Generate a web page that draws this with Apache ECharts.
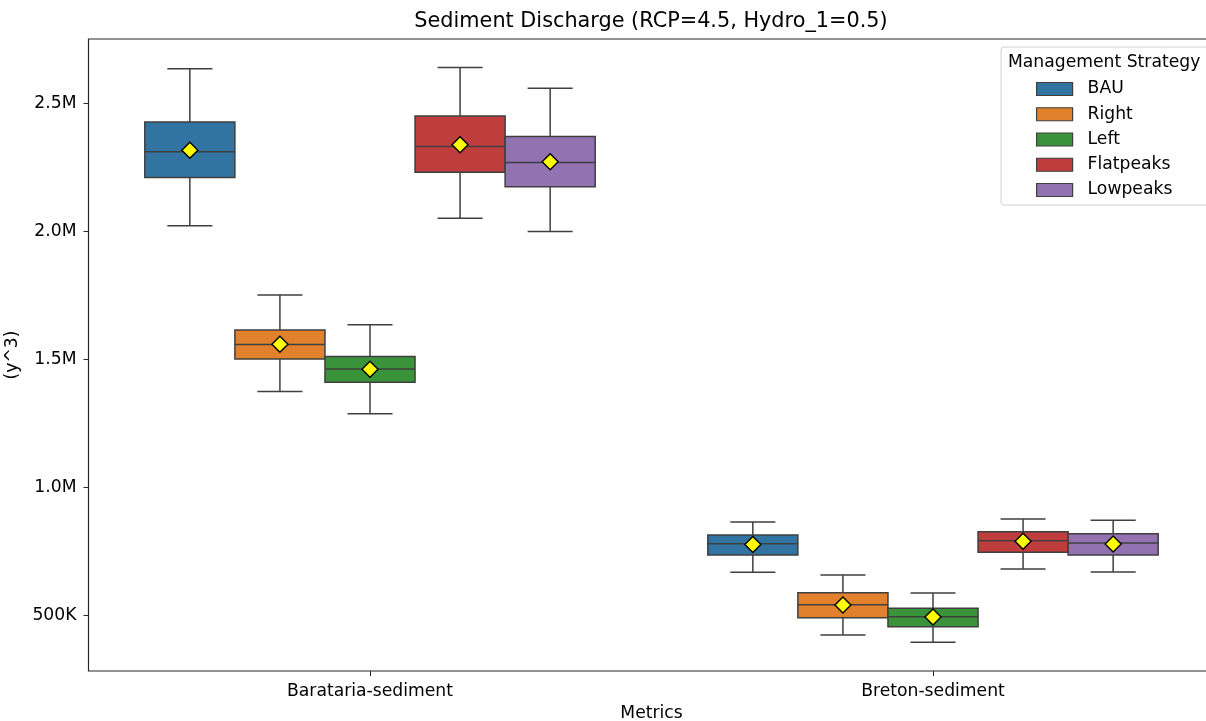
<!DOCTYPE html>
<html lang="en">
<head>
<meta charset="UTF-8">
<title>Sediment Discharge</title>
<script src="https://cdn.jsdelivr.net/npm/echarts@6/dist/echarts.min.js"></script>
<style>
    html, body { margin: 0; padding: 0; background: #fff; }
    #container { width: 1206px; height: 721px; }
</style>
</head>
<body>
<div id="container"></div>
<script type="text/javascript">
    // data: per strategy, per category -> [lowWhisker, q1, median, q3, highWhisker, mean]
    var categories = ['Barataria-sediment', 'Breton-sediment'];
    var strategies = ['BAU', 'Right', 'Left', 'Flatpeaks', 'Lowpeaks'];
    var colors = ['#3274a1', '#e1812c', '#3a923a', '#c03d3e', '#9372b2'];

    var bauStats = [
        [2023000, 2211000, 2312000, 2428000, 2636000, 2318000],
        [670000, 737000, 781000, 815000, 866000, 778000]
    ];
    var rightStats = [
        [1375000, 1502000, 1559000, 1616000, 1752000, 1560000],
        [425000, 492000, 543000, 590000, 659000, 542000]
    ];
    var leftStats = [
        [1289000, 1412000, 1463000, 1512000, 1636000, 1462000],
        [396000, 457000, 496000, 529000, 589000, 495000]
    ];
    var flatpeaksStats = [
        [2052000, 2232000, 2332000, 2451000, 2641000, 2339000],
        [682000, 748000, 793000, 828000, 878000, 791000]
    ];
    var lowpeaksStats = [
        [2000000, 2175000, 2270000, 2371000, 2560000, 2273000],
        [671000, 737000, 784000, 820000, 873000, 780000]
    ];
    var yTicks = [500000, 1000000, 1500000, 2000000, 2500000];

    var allStats = [bauStats, rightStats, leftStats, flatpeaksStats, lowpeaksStats];

    var dom = document.getElementById('container');
    var myChart = echarts.init(dom, null, { renderer: 'canvas' });

    var edgeColor = '#3f3f3f';
    var font = 'DejaVu Sans';

    function renderItem(params, api) {
        var si = params.seriesIndex;
        var n = strategies.length;
        var cat = api.value(0);
        var band = api.size([1, 0])[0];
        var w = band * 0.8 / n;
        var cx = api.coord([cat, 0])[0] + (si - (n - 1) / 2) * w;
        function y(k) { return api.coord([cat, api.value(k)])[1]; }
        var lo = y(1), q1 = y(2), md = y(3), q3 = y(4), hi = y(5), mn = y(6);
        var line = { stroke: edgeColor, lineWidth: 1.5 };
        var cap = w / 4;
        var d = 8;
        return {
            type: 'group',
            children: [
                { type: 'line', shape: { x1: cx, y1: q1, x2: cx, y2: lo }, style: line },
                { type: 'line', shape: { x1: cx, y1: q3, x2: cx, y2: hi }, style: line },
                { type: 'line', shape: { x1: cx - cap, y1: lo, x2: cx + cap, y2: lo }, style: line },
                { type: 'line', shape: { x1: cx - cap, y1: hi, x2: cx + cap, y2: hi }, style: line },
                {
                    type: 'rect',
                    shape: { x: cx - w / 2, y: q3, width: w, height: q1 - q3 },
                    style: { fill: colors[si], stroke: edgeColor, lineWidth: 1.5 }
                },
                { type: 'line', shape: { x1: cx - w / 2, y1: md, x2: cx + w / 2, y2: md }, style: line },
                {
                    type: 'polygon',
                    shape: { points: [[cx, mn - d], [cx + d, mn], [cx, mn + d], [cx - d, mn]] },
                    style: { fill: '#ffff00', stroke: '#000', lineWidth: 1.4 }
                }
            ]
        };
    }

    var series = strategies.map(function (name, si) {
        return {
            name: name,
            type: 'custom',
            renderItem: renderItem,
            clip: false,
            itemStyle: { color: colors[si] },
            encode: { x: 0, y: [1, 2, 3, 4, 5, 6] },
            data: allStats[si].map(function (s, ci) { return [ci].concat(s); })
        };
    });

    var option = {
        animation: false,
        color: colors,
        textStyle: { fontFamily: font },
        title: [
            {
                text: 'Sediment Discharge (RCP=4.5, Hydro_1=0.5)',
                left: 651,
                top: 11,
                padding: 0,
                textAlign: 'center',
                textStyle: { fontSize: 20.8, fontWeight: 'normal', color: '#000', fontFamily: font }
            },
            {
                text: 'Management Strategy',
                left: 1008,
                top: 54,
                padding: 0,
                textStyle: { fontSize: 17.2, fontWeight: 'normal', color: '#000', fontFamily: font }
            }
        ],
        legend: {
            orient: 'vertical',
            left: 1001,
            top: 47,
            padding: [33.5, 80, 6.5, 35],
            itemWidth: 36,
            itemHeight: 13,
            itemGap: 8.25,
            icon: 'rect',
            borderColor: '#d0d0d0',
            borderWidth: 1,
            borderRadius: 3,
            backgroundColor: 'rgba(255,255,255,0.8)',
            itemStyle: { borderColor: edgeColor, borderWidth: 1.2 },
            textStyle: { fontSize: 17.2, color: '#000', padding: [0, 0, 0, 10], fontFamily: font },
            data: strategies
        },
        // plot frame runs past the right edge of the window (to ~1214px), as in the reference
        grid: {
            left: 88.5,
            top: 39,
            width: 1126,
            height: 632,
            outerBoundsMode: 'none',
            containLabel: false,
            show: true,
            borderColor: '#262626',
            borderWidth: 1.2,
            backgroundColor: 'transparent'
        },
        xAxis: {
            type: 'category',
            data: categories,
            name: 'Metrics',
            nameLocation: 'middle',
            nameGap: 34,
            nameTextStyle: { fontSize: 17.2, color: '#000' },
            axisLine: { show: false },
            axisTick: { show: true, alignWithLabel: true, length: 5, lineStyle: { color: '#262626' } },
            axisLabel: { fontSize: 17.2, color: '#000', margin: 12 },
            splitLine: { show: false }
        },
        yAxis: {
            type: 'value',
            min: 284000,
            max: 2752000,
            name: '(y^3)',
            nameLocation: 'middle',
            nameGap: 63,
            nameTextStyle: { fontSize: 17.2, color: '#000' },
            axisLine: { show: false },
            axisTick: { show: true, length: 5, customValues: yTicks, lineStyle: { color: '#262626' } },
            axisLabel: {
                fontSize: 17.2,
                color: '#000',
                margin: 12,
                customValues: yTicks,
                formatter: function (v) {
                    if (v >= 1000000) return (v / 1000000).toFixed(1) + 'M';
                    return Math.round(v / 1000) + 'K';
                }
            },
            splitLine: { show: false }
        },
        series: series
    };
    myChart.setOption(option);
    window.addEventListener('resize', myChart.resize);
</script>
</body>
</html>
